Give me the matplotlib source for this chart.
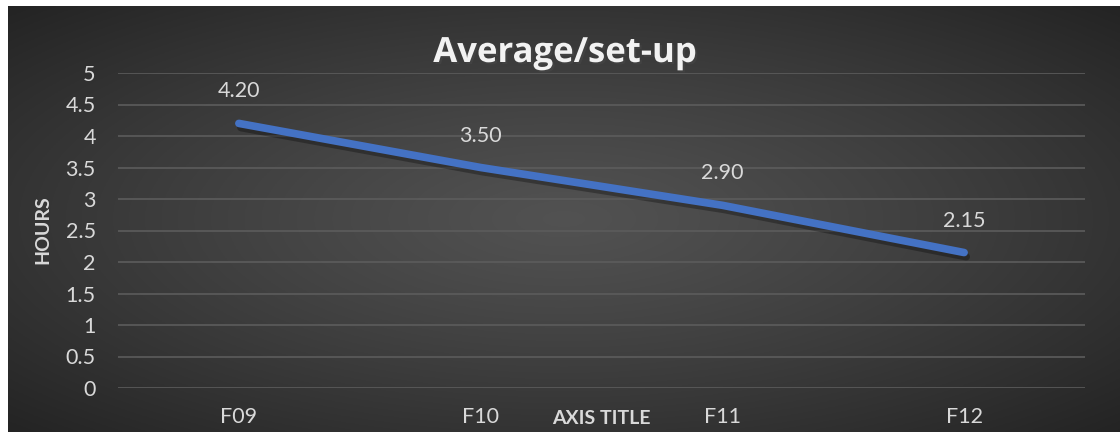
import matplotlib
matplotlib.use("Agg")
import matplotlib.pyplot as plt
import matplotlib.patheffects as pe
import numpy as np

# Data
categories = ["F09", "F10", "F11", "F12"]
avg_setup_hours = [4.20, 3.50, 2.90, 2.15]
y_ticks = [0, 0.5, 1, 1.5, 2, 2.5, 3, 3.5, 4, 4.5, 5]

plt.rcParams["font.family"] = ["Lato", "DejaVu Sans"]
TEXT = "#d9d9d9"

W, H = 1120, 432
fig = plt.figure(figsize=(W / 100, H / 100), dpi=100, facecolor="white")

# Dark radial-gradient background (thin white margin top/left)
bg = fig.add_axes([8 / W, 0, 1 - 8 / W, 1 - 6 / H])
bg.set_axis_off()
gx, gy = np.meshgrid(np.linspace(-1, 1, 600), np.linspace(-1, 1, 240))
r = np.clip(np.sqrt(gx**2 + gy**2) / np.sqrt(2), 0, 1)
shade = 0.32 - 0.18 * r**1.2
bg.imshow(np.dstack([shade] * 3), aspect="auto", extent=[0, 1, 0, 1])

ax = fig.add_axes([118 / W, 44 / H, 967 / W, 315 / H])
ax.set_facecolor("none")
x = np.arange(len(categories))
line, = ax.plot(x, avg_setup_hours, color="#4472C4", lw=5.5,
                solid_capstyle="round", zorder=3)
line.set_path_effects([pe.SimpleLineShadow(offset=(1.5, -3), alpha=0.3,
                                           shadow_color="black"),
                       pe.Normal()])

for xi, v in zip(x, avg_setup_hours):
    ax.annotate(f"{v:.2f}", (xi, v), xytext=(0, 23), textcoords="offset points",
                ha="center", va="center", color=TEXT, fontsize=15.5)

ax.set_xlim(-0.5, len(categories) - 0.5)
ax.set_ylim(0, 5)
ax.set_yticks(y_ticks)
ax.set_yticklabels([f"{t:g}" for t in y_ticks])
ax.set_xticks(x)
ax.set_xticklabels(categories)
ax.tick_params(length=0, colors=TEXT, labelsize=15.5)
ax.tick_params(axis="y", pad=16)
ax.tick_params(axis="x", pad=14)
ax.grid(axis="y", color="#5c5c5c", lw=1.2)
ax.set_axisbelow(True)
for s in ax.spines.values():
    s.set_visible(False)

fig.text(565 / W, 1 - 53 / H, "Average/set-up", ha="center", va="center",
         color="#f2f2f2", fontsize=25, fontweight="bold",
         family=["Open Sans", "DejaVu Sans"],
         path_effects=[pe.withSimplePatchShadow(offset=(1.5, -1.5),
                                                alpha=0.5)])
fig.text(43 / W, 1 - 230 / H, "HOURS", rotation=90, ha="center", va="center",
         color=TEXT, fontsize=14, fontweight="bold")
fig.text(601 / W, 1 - 418 / H, "AXIS TITLE", ha="center", va="center",
         color=TEXT, fontsize=14, fontweight="bold")

fig.savefig("out.png", dpi=100, facecolor="white")
